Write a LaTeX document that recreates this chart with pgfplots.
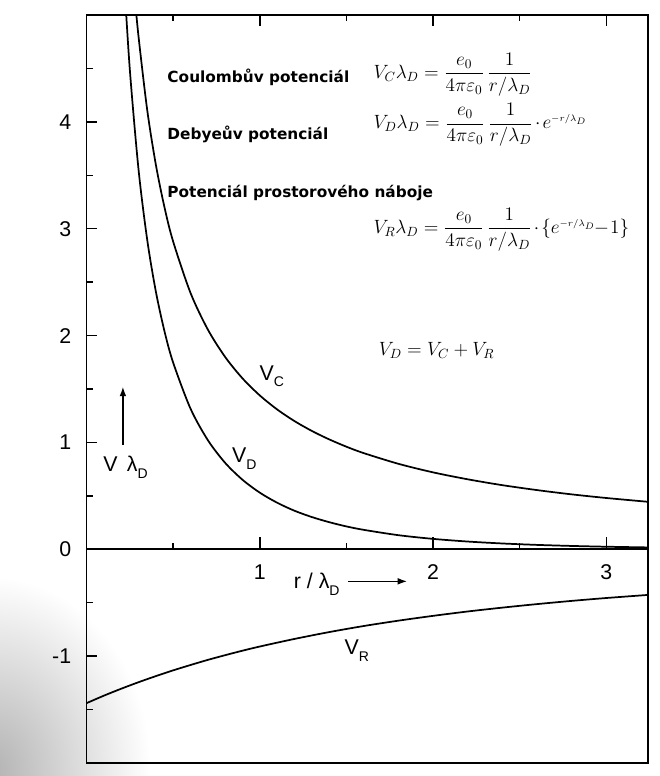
\documentclass[border=0pt]{standalone}
\usepackage{fontspec}
\usepackage{amsmath}
\usepackage{pgfplots}
\usepackage{pgfplotstable}
\pgfplotsset{compat=1.18}
\usetikzlibrary{arrows.meta}
\setmainfont{Liberation Sans}
\newfontfamily\verdana{DejaVu Sans}

\newcommand\lbl{\fontsize{16}{19}\selectfont}
\newcommand\sub[1]{\raisebox{-0.6ex}{\fontsize{10.5}{12}\selectfont #1}}
\newcommand\headfont{\verdana\bfseries\fontsize{11.5}{13}\selectfont}
\newcommand\eqfont{\fontsize{14.5}{17}\selectfont}
\newcommand\dotop{\mkern2mu{\cdot}\mkern2mu}
\newcommand\expo{e^{\scriptscriptstyle -r/\lambda_D}}

% potentials in units of 1e-9 V m, r in Debye lengths
\pgfplotstableread{
x     VC
0.28  5.143
0.30  4.800
0.35  4.114
0.40  3.600
0.45  3.200
0.50  2.880
0.60  2.400
0.70  2.057
0.80  1.800
0.90  1.600
1.00  1.440
1.10  1.309
1.20  1.200
1.30  1.108
1.40  1.029
1.50  0.960
1.60  0.900
1.80  0.800
2.00  0.720
2.20  0.655
2.40  0.600
2.60  0.554
2.80  0.514
3.00  0.480
3.25  0.443
}\coulombtab

\pgfplotstableread{
x     VD
0.22  5.253
0.25  4.486
0.30  3.556
0.35  2.899
0.40  2.413
0.45  2.040
0.50  1.747
0.60  1.317
0.70  1.022
0.80  0.809
0.90  0.651
1.00  0.530
1.10  0.436
1.20  0.361
1.30  0.302
1.40  0.254
1.50  0.214
1.60  0.182
1.80  0.132
2.00  0.0974
2.20  0.0725
2.40  0.0544
2.60  0.0411
2.80  0.0313
3.00  0.0239
3.25  0.0172
}\debyetab

\pgfplotstableread{
x     VR
0.00  -1.440
0.10  -1.370
0.20  -1.305
0.30  -1.244
0.40  -1.187
0.50  -1.133
0.60  -1.083
0.70  -1.035
0.80  -0.991
0.90  -0.949
1.00  -0.910
1.20  -0.839
1.40  -0.775
1.60  -0.718
1.80  -0.668
2.00  -0.623
2.20  -0.582
2.40  -0.546
2.60  -0.513
2.80  -0.483
3.00  -0.456
3.25  -0.426
}\chargetab

\begin{document}
\begin{tikzpicture}
\useasboundingbox (-64.9pt,-9.75pt) rectangle (430.1pt,572.25pt);
% grey shadow of the scanned page, lower left
\shade[inner color=black!30, outer color=white]
  (-72pt,-5pt) ellipse [x radius=120pt, y radius=145pt];
\begin{axis}[
  scale only axis,
  width=421pt, height=561pt,
  xmin=0, xmax=3.24, ymin=-2, ymax=5,
  axis line style={line width=1.4pt},
  xtick={1,2,3}, xticklabel=\empty,
  ytick={-1,0,1,2,3,4}, yticklabels={-1,0,1,2,3,4},
  major tick length=0pt,
  yticklabel style={font=\lbl, xshift=-8pt},
  clip=true,
]
\addplot[black, line width=1.3pt, smooth] table[x=x, y=VC] {\coulombtab};
\addplot[black, line width=1.3pt, smooth] table[x=x, y=VD] {\debyetab};
\addplot[black, line width=1.3pt, smooth] table[x=x, y=VR] {\chargetab};

% the r axis at zero potential
\draw[line width=1.4pt] (axis cs:0,0) -- (axis cs:3.24,0);
% ticks: on the zero line (pointing up), along the top (down), left side (right)
\pgfplotsinvokeforeach{1,2,3}{
  \draw[line width=1.1pt] (axis cs:#1,0) -- ([yshift=9pt]axis cs:#1,0);
  \draw[line width=1.1pt] (axis cs:#1,5) -- ([yshift=-8pt]axis cs:#1,5);
  \node[font=\lbl] at (axis cs:#1,-0.215) {#1};
}
\pgfplotsinvokeforeach{0.5,1.5,2.5}{
  \draw[line width=1.1pt] (axis cs:#1,0) -- ([yshift=4.5pt]axis cs:#1,0);
  \draw[line width=1.1pt] (axis cs:#1,5) -- ([yshift=-4.5pt]axis cs:#1,5);
}
\pgfplotsinvokeforeach{-1,0,1,2,3,4}{
  \draw[line width=1.1pt] (axis cs:0,#1) -- ([xshift=8pt]axis cs:0,#1);
}
\pgfplotsinvokeforeach{-1.5,-0.5,0.5,1.5,2.5,3.5,4.5}{
  \draw[line width=1.1pt] (axis cs:0,#1) -- ([xshift=5pt]axis cs:0,#1);
}

% axis captions
\node[font=\lbl, anchor=west] at (axis cs:-0.40,4.62) {x 10\raisebox{1.1ex}{\fontsize{10}{12}\selectfont -9}};
\node[font=\lbl] at (axis cs:-0.17,2.52) {V m};
\node[font=\lbl] at (axis cs:0.225,0.77) {V\, λ\sub{D}};
\draw[line width=0.9pt, -{Latex[length=7pt,width=5pt]}] (axis cs:0.21,0.98) -- (axis cs:0.21,1.52);
\node[font=\lbl, anchor=west] at (axis cs:1.17,-0.33) {r / λ\sub{D}};
\draw[line width=0.9pt, -{Latex[length=7pt,width=5pt]}] (axis cs:1.51,-0.30) -- (axis cs:1.85,-0.30);

% curve labels
\node[font=\lbl] at (axis cs:1.07,1.62) {V\sub{C}};
\node[font=\lbl] at (axis cs:0.91,0.85) {V\sub{D}};
\node[font=\lbl] at (axis cs:1.56,-0.95) {V\sub{R}};

% formulas
\node[font=\headfont, anchor=west] at (axis cs:0.44,4.42) {Coulombův potenciál};
\node[font=\headfont, anchor=west] at (axis cs:0.44,3.88) {Debyeův potenciál};
\node[font=\headfont, anchor=west] at (axis cs:0.44,3.33) {Potenciál prostorového náboje};
\node[font=\eqfont, anchor=west] at (axis cs:1.63,4.44)
  {$V_C\lambda_D=\dfrac{e_0}{4\pi\varepsilon_0}\,\dfrac{1}{r/\lambda_D}$};
\node[font=\eqfont, anchor=west] at (axis cs:1.63,3.97)
  {$V_D\lambda_D=\dfrac{e_0}{4\pi\varepsilon_0}\,\dfrac{1}{r/\lambda_D}\dotop\expo$};
\node[font=\eqfont, anchor=west] at (axis cs:1.63,2.99)
  {$V_R\lambda_D=\dfrac{e_0}{4\pi\varepsilon_0}\,\dfrac{1}{r/\lambda_D}\dotop\{\expo\mkern-1mu{-}\mkern1mu1\}$};
\node[font=\eqfont, anchor=west] at (axis cs:1.66,1.86) {$V_D=V_C+V_R$};
\end{axis}
\end{tikzpicture}
\end{document}
